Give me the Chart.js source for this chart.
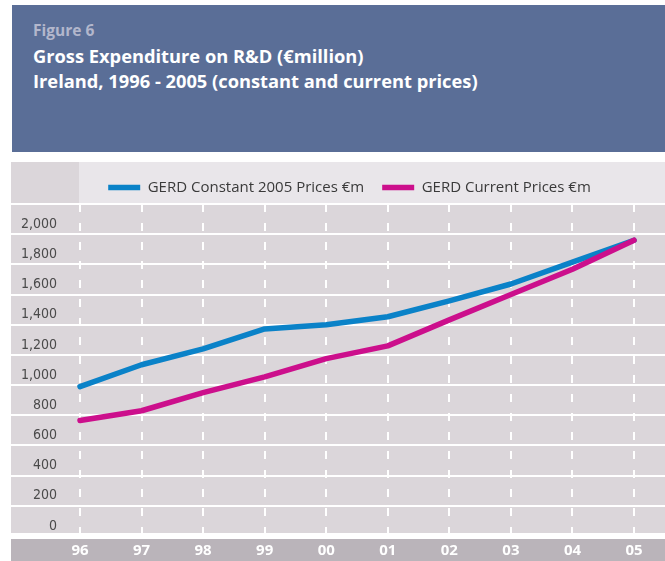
<!DOCTYPE html>
<html>
<head>
<meta charset="utf-8">
<script src="https://cdn.jsdelivr.net/npm/chart.js@4"></script>
<style>
  html, body { margin: 0; padding: 0; background: #fff; width: 665px; height: 561px; overflow: hidden; }
  #header { position: absolute; left: 12px; top: 5px; width: 653px; height: 147px; background: #5a6e97; }
  .fig { position: absolute; left: 21px; top: 15px; font: bold 15.5px/20px 'Open Sans', sans-serif; color: #b3b7cc; }
  .ttl { position: absolute; left: 21px; top: 38px; font: bold 18.3px/25px 'Open Sans', sans-serif; color: #fff; white-space: nowrap; }
  #wrap { position: absolute; left: 11px; top: 162px; width: 677px; height: 399px; }
</style>
</head>
<body>
<div id="header">
  <div class="fig">Figure 6</div>
  <div class="ttl">Gross Expenditure on R&amp;D (€million)<br>Ireland, 1996 - 2005 (constant and current prices)</div>
</div>
<div id="wrap"><canvas id="gerdChart"></canvas></div>
<script>
const years = ['96', '97', '98', '99', '00', '01', '02', '03', '04', '05'];
const gerdConstant = [990, 1135, 1240, 1372, 1400, 1453, 1558, 1670, 1815, 1960];
const gerdCurrent = [765, 830, 950, 1055, 1175, 1260, 1432, 1600, 1768, 1960];
const yMax = 2200;
const yStep = 200;

const toPoints = (arr) => arr.map((v, i) => ({ x: i, y: v }));

// background bands behind the plot
const bands = {
    id: 'bands',
    beforeDraw(chart) {
        const { ctx, chartArea, width, height } = chart;
        ctx.save();
        ctx.fillStyle = '#e9e6ea';
        ctx.fillRect(0, 0, width, chartArea.top);
        ctx.fillStyle = '#dbd6da';
        ctx.fillRect(0, 0, 68, chartArea.top);
        ctx.fillRect(0, chartArea.top, width, chartArea.bottom - chartArea.top);
        ctx.fillStyle = '#ffffff';
        ctx.fillRect(0, chartArea.bottom, width, 3);
        ctx.fillStyle = '#bab4ba';
        ctx.fillRect(0, chartArea.bottom + 3, width, height - chartArea.bottom - 3);
        ctx.restore();
    }
};

Chart.defaults.font.family = "'Open Sans', sans-serif";

new Chart(document.getElementById('gerdChart'), {
    type: 'line',
    data: {
        datasets: [{
            label: 'GERD Current Prices €m',
            data: toPoints(gerdCurrent),
            borderColor: '#cc0f8c',
            backgroundColor: '#cc0f8c',
            borderWidth: 5.5,
            borderCapStyle: 'round',
            borderJoinStyle: 'round',
            pointRadius: 0,
            clip: false
        }, {
            label: 'GERD Constant 2005 Prices €m',
            data: toPoints(gerdConstant),
            borderColor: '#0a82c8',
            backgroundColor: '#0a82c8',
            borderWidth: 5.5,
            borderCapStyle: 'round',
            borderJoinStyle: 'round',
            pointRadius: 0,
            clip: false
        }]
    },
    options: {
        responsive: true,
        maintainAspectRatio: false,
        animation: false,
        layout: { padding: 0 },
        plugins: {
            legend: {
                display: true,
                position: 'top',
                reverse: true,
                maxHeight: 42,
                labels: {
                    usePointStyle: true,
                    pointStyle: 'line',
                    pointStyleWidth: 32,
                    padding: 18,
                    color: '#3a3a3a',
                    font: { size: 15 }
                }
            },
            tooltip: { enabled: false }
        },
        scales: {
            x: {
                type: 'linear',
                min: -1.121,
                max: 9.877,
                afterBuildTicks: (axis) => {
                    axis.ticks = years.map((y, i) => ({ value: i }));
                },
                afterFit: (axis) => { axis.height = 25; },
                grid: { color: '#ffffff', lineWidth: 2, drawTicks: false },
                border: { display: false, dash: [8, 11] },
                ticks: {
                    callback: (v) => years[v],
                    color: '#ffffff',
                    font: { size: 15, weight: 'bold' },
                    padding: 6,
                    maxRotation: 0,
                    autoSkip: false
                }
            },
            y: {
                min: 0,
                max: yMax,
                afterFit: (axis) => { axis.width = 0; },
                grid: {
                    color: '#ffffff',
                    lineWidth: (c) => (c.tick && c.tick.value === 0 ? 6 : 2),
                    drawTicks: false
                },
                border: { display: false },
                ticks: {
                    stepSize: yStep,
                    mirror: true,
                    crossAlign: 'far',
                    padding: 10,
                    labelOffset: -10,
                    autoSkip: false,
                    color: '#4a4a4a',
                    font: { family: "'Liberation Sans Narrow', 'DejaVu Sans Condensed', sans-serif", size: 14 },
                    callback: (v) => (v === yMax ? '' : v.toLocaleString('en-US'))
                }
            }
        }
    },
    plugins: [bands]
});
</script>
</body>
</html>
